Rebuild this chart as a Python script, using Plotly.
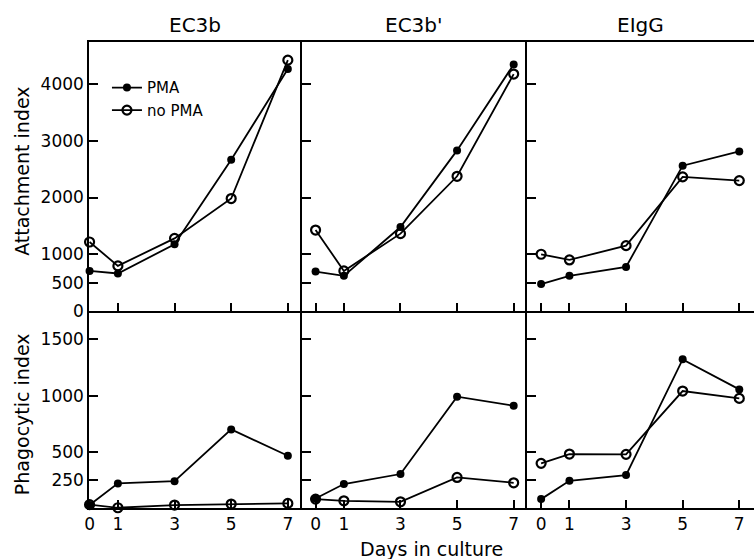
import plotly.graph_objects as go
from plotly.subplots import make_subplots

days = [0, 1, 3, 5, 7]
panel_titles = ["EC3b", "EC3b'", "EIgG"]

attach_pma_ec3b = [707, 661, 1175, 2667, 4263]
attach_nopma_ec3b = [1216, 795, 1280, 1982, 4420]
attach_pma_ec3b2 = [696, 620, 1480, 2830, 4345]
attach_nopma_ec3b2 = [1427, 707, 1363, 2374, 4175]
attach_pma_eigg = [474, 620, 777, 2561, 2812]
attach_nopma_eigg = [1000, 900, 1152, 2363, 2298]

phago_pma_ec3b = [26, 219, 239, 699, 465]
phago_nopma_ec3b = [30, 2, 26, 35, 41]
phago_pma_ec3b2 = [85, 213, 302, 990, 910]
phago_nopma_ec3b2 = [79, 64, 55, 272, 224]
phago_pma_eigg = [79, 242, 293, 1322, 1055]
phago_nopma_eigg = [397, 480, 477, 1040, 975]

attach_ticks = [0, 500, 1000, 2000, 3000, 4000]
phago_ticks = [250, 500, 1000, 1500]

FONT = "DejaVu Sans"

fig = make_subplots(rows=2, cols=3, horizontal_spacing=0, vertical_spacing=0)

attach_pma = [attach_pma_ec3b, attach_pma_ec3b2, attach_pma_eigg]
attach_nopma = [attach_nopma_ec3b, attach_nopma_ec3b2, attach_nopma_eigg]
phago_pma = [phago_pma_ec3b, phago_pma_ec3b2, phago_pma_eigg]
phago_nopma = [phago_nopma_ec3b, phago_nopma_ec3b2, phago_nopma_eigg]

line_style = dict(color="black", width=1.8)
filled = dict(symbol="circle", size=8, color="black", line=dict(color="black", width=0))
opened = dict(symbol="circle-open", size=9, color="black", line=dict(color="black", width=2.2))

for c in range(3):
    first = c == 0
    for r, (pma, nop) in enumerate([(attach_pma, attach_nopma), (phago_pma, phago_nopma)]):
        fig.add_trace(go.Scatter(x=days, y=pma[c], mode="lines+markers", name="PMA",
                                 line=line_style, marker=filled, cliponaxis=False,
                                 showlegend=(first and r == 0), legendrank=1),
                      row=r + 1, col=c + 1)
        fig.add_trace(go.Scatter(x=days, y=nop[c], mode="lines+markers", name="no PMA",
                                 line=line_style, marker=opened, cliponaxis=False,
                                 showlegend=(first and r == 0), legendrank=2),
                      row=r + 1, col=c + 1)

x_domains = [[0, 0.3203], [0.3203, 0.6586], [0.6586, 1.0]]
x_ranges = [[-0.02, 7.5], [-0.48, 7.47], [-0.5, 7.52]]
for c in range(3):
    for r in range(2):
        tv = [1, 3, 5, 7] if c == 0 else [0, 1, 3, 5, 7]
        fig.update_xaxes(domain=x_domains[c], range=x_ranges[c],
                         showline=True, linecolor="black", linewidth=1.5,
                         mirror=(r == 0), showgrid=False, zeroline=False,
                         ticks="inside", ticklen=8, tickwidth=1.5, tickcolor="black",
                         tickvals=(tv if r == 0 else [0, 1, 3, 5, 7]),
                         showticklabels=(r == 1),
                         tickfont=dict(family=FONT, size=17, color="black"),
                         row=r + 1, col=c + 1)
        fig.update_yaxes(domain=([0.4227, 1.0] if r == 0 else [0, 0.4227]),
                         range=([0, 4740] if r == 0 else [0, 1752]),
                         showline=True, linecolor="black", linewidth=1.5,
                         showgrid=False, zeroline=False,
                         ticks="inside", ticklen=9, tickwidth=1.5, tickcolor="black",
                         tickvals=(attach_ticks if r == 0 else phago_ticks),
                         showticklabels=(c == 0),
                         tickfont=dict(family=FONT, size=17, color="black"),
                         row=r + 1, col=c + 1)

for c, t in enumerate(panel_titles):
    xc = (x_domains[c][0] + x_domains[c][1]) / 2
    fig.add_annotation(text=t, x=xc, y=1.0, xref="paper", yref="paper",
                       xanchor="center", yanchor="bottom", yshift=3, showarrow=False,
                       font=dict(family=FONT, size=20, color="black"))

fig.add_annotation(text="Attachment index", x=0, xref="paper", xshift=-67,
                   xanchor="center", yanchor="middle",
                   y=(1.0 + 0.4227) / 2 + 0.01, yref="paper", textangle=-90,
                   showarrow=False, font=dict(family=FONT, size=19, color="black"))
fig.add_annotation(text="Phagocytic index", x=0, xref="paper", xshift=-67,
                   xanchor="center", yanchor="middle",
                   y=0.4227 / 2 - 0.01, yref="paper", textangle=-90,
                   showarrow=False, font=dict(family=FONT, size=19, color="black"))
fig.add_annotation(text="Days in culture", x=0.515, xref="paper", xanchor="center",
                   y=0, yref="paper", yanchor="top", yshift=-28, showarrow=False,
                   font=dict(family=FONT, size=19, color="black"))

fig.update_layout(
    width=754, height=559,
    margin=dict(l=89, r=0, t=42, b=51),
    paper_bgcolor="white", plot_bgcolor="white",
    showlegend=True,
    legend=dict(x=0.027, y=0.937, xanchor="left", yanchor="top",
                bgcolor="rgba(0,0,0,0)", font=dict(family=FONT, size=15, color="black"),
                tracegroupgap=0, itemwidth=30),
)

fig.write_html("out.html", config={"displayModeBar": False},
               post_script="document.body.style.margin='0';")
